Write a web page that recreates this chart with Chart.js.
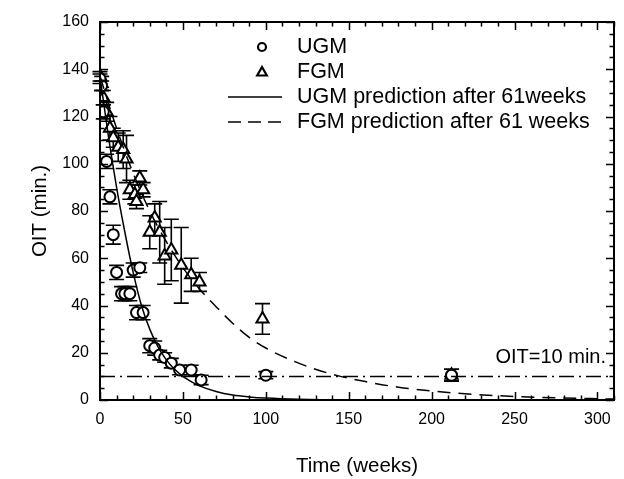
<!DOCTYPE html>
<html><head><meta charset="utf-8">
<script src="https://cdn.jsdelivr.net/npm/chart.js@4/dist/chart.umd.min.js"></script>
<style>html,body{margin:0;padding:0;background:#fff;}</style>
</head><body>
<canvas id="c" width="624" height="479" style="display:block"></canvas>
<script>
// ---- data ----
const ugmX   = [0, 1, 2, 4, 6, 8, 10, 13, 15, 18, 20, 24, 22, 26, 30, 33, 36, 39, 43, 48, 55, 61, 100, 212];
const ugmY   = [136, 133, 122, 101, 86, 70, 54, 45, 45, 45, 55, 56, 37, 37, 23, 22, 19, 18, 15.6, 12.7, 12.7, 8.5, 10.5, 10.5];
const ugmErr = [2, 2, 3, 3, 3, 4, 3, 3, 3, 3, 3, 2, 3, 3, 3, 3, 2, 2, 2, 2, 2, 2, 1.5, 2.5];

const fgmX   = [0, 1, 2, 4, 6, 8, 11, 14, 16, 18, 21, 22, 24, 26, 30, 33, 36, 39, 43, 49, 55, 60, 98, 212];
const fgmY   = [137, 134, 128, 122, 115, 111, 107, 106, 102, 89, 87, 84, 94, 89, 71, 77, 71, 61, 63.5, 57, 53, 50, 34.3, 10.5];
const fgmErr = [2, 3, 3, 4, 5, 4, 6, 8, 10, 4, 4, 3, 3, 3, 7, 6, 13, 12, 13, 16, 7, 4, 6.5, 2.5];

const ugmPredX = [0, 5, 10, 15, 20, 25, 30, 35, 40, 45, 50, 55, 60, 70, 80, 90, 100, 120, 150, 200, 310];
const ugmPredY = [137, 112, 90, 71, 54, 40, 30, 22.5, 17, 13, 10, 7.8, 6, 3.6, 2.1, 1.3, 0.8, 0.3, 0.05, 0, 0];

const fgmPredX = [0, 10, 20, 30, 40, 50, 60, 70, 80, 90, 100, 115, 130, 145, 160, 180, 200, 225, 250, 275, 310];
const fgmPredY = [137, 115, 96, 80, 67, 56, 47, 39.5, 32.5, 26.5, 22, 17, 13, 10, 7.8, 5.4, 3.8, 2.4, 1.5, 0.9, 0.4];

const thresholdX = [0, 310];
const thresholdY = [10, 10];
const thresholdLabel = 'OIT=10 min.';

const legendLabels = ['UGM', 'FGM', 'UGM prediction after 61weeks', 'FGM prediction after 61 weeks'];
const xTitle = 'Time (weeks)';
const yTitle = 'OIT (min.)';
const xRange = [0, 310], xMajor = 50, xMinor = 10;
const yRange = [0, 160], yMajor = 20, yMinor = 5;

// ---- helpers ----
const FONT = '"Liberation Sans", Arial, Helvetica, sans-serif';
const pts = (xs, ys) => xs.map((x, i) => ({x, y: ys[i]}));

const errorBars = {
  id: 'errorBars',
  beforeDatasetsDraw(chart) {
    const {ctx} = chart;
    const xs = chart.scales.x, ys = chart.scales.y;
    const sets = [[ugmX, ugmY, ugmErr], [fgmX, fgmY, fgmErr]];
    ctx.save();
    ctx.strokeStyle = '#000';
    ctx.lineWidth = 1.6;
    sets.forEach(([X, Y, E]) => {
      X.forEach((x, i) => {
        const px = xs.getPixelForValue(x);
        const top = ys.getPixelForValue(Y[i] + E[i]);
        const bot = ys.getPixelForValue(Y[i] - E[i]);
        ctx.beginPath();
        ctx.moveTo(px, top); ctx.lineTo(px, bot);
        ctx.moveTo(px - 7.5, top); ctx.lineTo(px + 7.5, top);
        ctx.moveTo(px - 7.5, bot); ctx.lineTo(px + 7.5, bot);
        ctx.stroke();
      });
    });
    ctx.restore();
  }
};

const frameTicks = {
  id: 'frameTicks',
  afterDraw(chart) {
    const {ctx, chartArea: a} = chart;
    const xs = chart.scales.x, ys = chart.scales.y;
    ctx.save();
    ctx.strokeStyle = '#000';
    ctx.lineWidth = 1.5;
    ctx.beginPath();
    xs.ticks.forEach(t => {
      const px = Math.round(xs.getPixelForValue(t.value)) + 0.5;
      const len = (t.value % xMajor === 0) ? 8 : 4.5;
      ctx.moveTo(px, a.bottom); ctx.lineTo(px, a.bottom - len);
      ctx.moveTo(px, a.top); ctx.lineTo(px, a.top + len);
    });
    ys.ticks.forEach(t => {
      const py = Math.round(ys.getPixelForValue(t.value)) + 0.5;
      const len = (t.value % yMajor === 0) ? 8 : 4.5;
      ctx.moveTo(a.left, py); ctx.lineTo(a.left + len, py);
      ctx.moveTo(a.right, py); ctx.lineTo(a.right - len, py);
    });
    ctx.stroke();
    ctx.lineWidth = 2;
    ctx.strokeRect(a.left, a.top, a.right - a.left, a.bottom - a.top);

    // threshold label
    ctx.fillStyle = '#000';
    ctx.font = '20px ' + FONT;
    ctx.textAlign = 'right';
    ctx.textBaseline = 'middle';
    ctx.fillText(thresholdLabel, xs.getPixelForValue(xRange[1]) - 8, ys.getPixelForValue(thresholdY[0]) - 19);

    // legend
    const lx0 = 228, lx1 = 282, lmx = 262, tx = 297;
    const rows = [47, 72, 97, 122];
    ctx.font = '21.5px ' + FONT;
    ctx.textAlign = 'left';
    ctx.lineWidth = 2.2;
    // circle
    ctx.beginPath(); ctx.arc(lmx, rows[0], 4, 0, Math.PI * 2); ctx.stroke();
    // triangle
    ctx.beginPath();
    ctx.moveTo(lmx, rows[1] - 5); ctx.lineTo(lmx + 4.8, rows[1] + 3.5); ctx.lineTo(lmx - 4.8, rows[1] + 3.5); ctx.closePath(); ctx.stroke();
    ctx.lineWidth = 1.5;
    ctx.beginPath(); ctx.moveTo(lx0, rows[2]); ctx.lineTo(lx1, rows[2]); ctx.stroke();
    ctx.setLineDash([13, 7]);
    ctx.beginPath(); ctx.moveTo(lx0, rows[3]); ctx.lineTo(lx1, rows[3]); ctx.stroke();
    ctx.setLineDash([]);
    legendLabels.forEach((s, i) => ctx.fillText(s, tx, rows[i]));
    ctx.restore();
  }
};

new Chart(document.getElementById('c'), {
  type: 'scatter',
  data: {
    datasets: [
      {label: legendLabels[2], data: pts(ugmPredX, ugmPredY), showLine: true, borderColor: '#000', borderWidth: 1.5,
       pointRadius: 0, cubicInterpolationMode: 'monotone', fill: false},
      {label: legendLabels[3], data: pts(fgmPredX, fgmPredY), showLine: true, borderColor: '#000', borderWidth: 1.5,
       borderDash: [13, 8], pointRadius: 0, cubicInterpolationMode: 'monotone', fill: false},
      {label: 'threshold', data: pts(thresholdX, thresholdY), showLine: true, borderColor: '#000', borderWidth: 1.5,
       borderDash: [15, 5, 2, 5], pointRadius: 0, fill: false},
      {label: legendLabels[0], data: pts(ugmX, ugmY), pointStyle: 'circle', pointRadius: 5.5, borderWidth: 2,
       borderColor: '#000', backgroundColor: '#fff', pointBackgroundColor: '#fff'},
      {label: legendLabels[1], data: pts(fgmX, fgmY), pointStyle: 'triangle', pointRadius: 7, borderWidth: 2,
       borderColor: '#000', backgroundColor: '#fff', pointBackgroundColor: '#fff'}
    ]
  },
  options: {
    responsive: false,
    animation: false,
    devicePixelRatio: 1,
    layout: {padding: {left: 0, right: 9, top: 22, bottom: 0}},
    plugins: {legend: {display: false}, tooltip: {enabled: false}},
    scales: {
      x: {
        type: 'linear', min: xRange[0], max: xRange[1],
        grid: {display: false, drawTicks: false},
        border: {display: false},
        ticks: {stepSize: xMinor, autoSkip: false, maxRotation: 0, padding: 10, color: '#000',
                font: {size: 16, family: FONT},
                callback: v => (v % xMajor === 0 ? String(v) : '')},
        title: {display: true, text: xTitle, color: '#000', font: {size: 20.5, family: FONT}, padding: {top: 0, bottom: 0}},
        afterFit: s => { s.height = 79; }
      },
      y: {
        type: 'linear', min: yRange[0], max: yRange[1],
        grid: {display: false, drawTicks: false},
        border: {display: false},
        ticks: {stepSize: yMinor, autoSkip: false, padding: 11, color: '#000',
                font: {size: 16, family: FONT},
                callback: v => (v % yMajor === 0 ? String(v) : '')},
        title: {display: true, text: yTitle, color: '#000', font: {size: 20.5, family: FONT}, padding: {top: 28, bottom: 0}},
        afterFit: s => { s.width = 100; }
      }
    }
  },
  plugins: [errorBars, frameTicks]
});
</script>
</body></html>
